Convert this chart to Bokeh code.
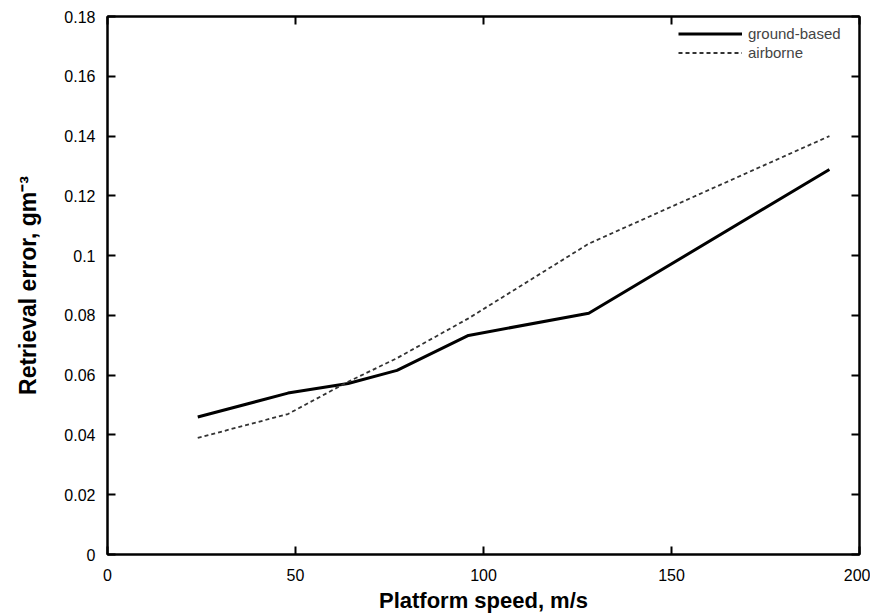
from bokeh.plotting import figure
from bokeh.models import FixedTicker, Range1d, LinearAxis, Legend, LegendItem, CustomJSTickFormatter
from bokeh.embed import file_html
from bokeh.resources import INLINE

# Data
speed = [24, 48, 64, 77, 96, 128, 192]
ground_based = [0.046, 0.054, 0.0572, 0.0616, 0.0733, 0.0807, 0.1288]
airborne = [0.039, 0.047, 0.0578, 0.0657, 0.079, 0.104, 0.140]

x_ticks = [0, 50, 100, 150, 200]
y_ticks = [0, 0.02, 0.04, 0.06, 0.08, 0.1, 0.12, 0.14, 0.16, 0.18]
y_tick_labels = ["0", "0.02", "0.04", "0.06", "0.08", "0.1", "0.12", "0.14", "0.16", "0.18"]

FONT = "Liberation Sans"

p = figure(width=870, height=615, output_backend="svg", toolbar_location=None,
           x_range=Range1d(0, 200), y_range=Range1d(0, 0.18),
           min_border_left=107, min_border_top=16, min_border_right=11, min_border_bottom=20)

p.xgrid.visible = False
p.ygrid.visible = False
p.outline_line_color = "black"
p.outline_line_width = 2
p.background_fill_color = "white"
p.border_fill_color = "white"

def style_axis(ax):
    ax.axis_line_color = "black"
    ax.axis_line_width = 2
    ax.major_tick_in = 8
    ax.major_tick_out = 0
    ax.major_tick_line_width = 2
    ax.major_tick_line_color = "black"
    ax.minor_tick_line_color = None
    ax.major_label_text_font = FONT
    ax.major_label_text_font_size = "16px"
    ax.major_label_text_color = "black"
    ax.major_label_standoff = 12
    ax.axis_label_text_font = FONT
    ax.axis_label_text_font_style = "bold"
    ax.axis_label_text_color = "black"

xax = p.xaxis[0]
style_axis(xax)
xax.ticker = FixedTicker(ticks=x_ticks)
xax.major_label_standoff = 14
xax.axis_label = "Platform speed, m/s"
xax.axis_label_text_font_size = "22px"
xax.axis_label_standoff = 4

yax = p.yaxis[0]
style_axis(yax)
yax.ticker = FixedTicker(ticks=y_ticks)
yax.major_label_overrides = {t: l for t, l in zip(y_ticks, y_tick_labels)}
yax.axis_label = "Retrieval error, gm⁻³"
yax.axis_label_text_font_size = "23px"
yax.axis_label_standoff = 20

# mirror ticks on top and right
empty = CustomJSTickFormatter(code="return ''")
top = LinearAxis(ticker=FixedTicker(ticks=x_ticks), formatter=empty)
style_axis(top)
top.major_label_text_font_size = "1px"
top.major_label_standoff = 0
p.add_layout(top, "above")
right = LinearAxis(ticker=FixedTicker(ticks=y_ticks), formatter=empty)
style_axis(right)
right.major_label_text_font_size = "1px"
right.major_label_standoff = 0
p.add_layout(right, "right")

r1 = p.line(speed, ground_based, line_color="black", line_width=3)
r2 = p.line(speed, airborne, line_color="#333333", line_width=1.8, line_dash="4 3")

legend = Legend(items=[LegendItem(label="ground-based", renderers=[r1]),
                       LegendItem(label="airborne", renderers=[r2])],
                location=(571, 493), background_fill_alpha=0, border_line_color=None,
                label_text_font=FONT, label_text_font_size="15px",
                glyph_width=64, glyph_height=17, label_height=17,
                spacing=2, padding=2, margin=0, label_standoff=6)
p.add_layout(legend)

open("out.html", "w").write(file_html(p, INLINE))
